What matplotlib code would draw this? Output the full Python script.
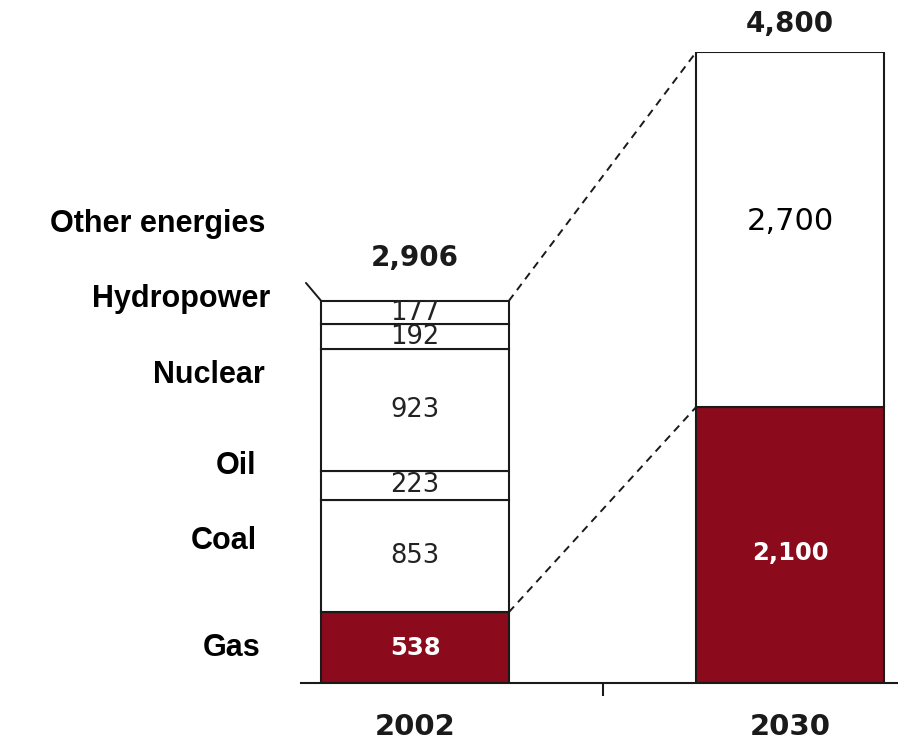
import matplotlib
matplotlib.use('Agg')
import matplotlib.pyplot as plt
import matplotlib.transforms as mtransforms

plt.rcParams['font.family'] = ['Liberation Sans', 'DejaVu Sans']

# data
years = ['2002', '2030']
sources_2002 = ['Gas', 'Coal', 'Oil', 'Nuclear', 'Hydropower', 'Other energies']
values_2002 = [538, 853, 223, 923, 192, 177]
total_2002 = 2906
values_2030 = [2100, 2700]   # gas, everything else
total_2030 = 4800

red = '#8b0a1c'
w = 0.5
num_font = 'DejaVu Sans'

fig = plt.figure(figsize=(8.98, 7.48), dpi=100)
ax = fig.add_axes([301 / 898, 65 / 748, 597 / 898, 631 / 748])

# 2002 stacked bar
bottom = 0
seg_centers = []
for i, v in enumerate(values_2002):
    col = red if i == 0 else 'white'
    ax.bar(0, v, width=w, bottom=bottom, color=col, edgecolor='#1a1a1a', linewidth=1.5)
    seg_centers.append(bottom + v / 2)
    if i == 0:
        ax.text(0, bottom + v / 2, f'{v:,}', ha='center', va='center', color='white',
                fontsize=17.5, fontweight='bold', family=num_font)
    else:
        ax.text(0, bottom + v / 2, f'{v:,}', ha='center', va='center', color='#222222',
                fontsize=18.5, family=num_font)
    bottom += v

# 2030 bar
ax.bar(1, values_2030[0], width=w, color=red, edgecolor='#1a1a1a', linewidth=1.5)
ax.bar(1, values_2030[1], width=w, bottom=values_2030[0], color='white',
       edgecolor='#1a1a1a', linewidth=1.5)
ax.text(1, values_2030[0] / 2 - 60, f'{values_2030[0]:,}', ha='center', va='center',
        color='white', fontsize=17.5, fontweight='bold', family=num_font)
ax.text(1, values_2030[0] + values_2030[1] / 2 + 60, f'{values_2030[1]:,}', ha='center',
        va='center', color='black', fontsize=22, family=num_font)

# totals
ax.annotate(f'{total_2002:,}', (0, total_2002), xytext=(0, 31), textcoords='offset points',
            ha='center', va='center', fontsize=20, fontweight='bold', color='#1a1a1a',
            family=num_font)
ax.annotate(f'{total_2030:,}', (1, total_2030), xytext=(0, 20), textcoords='offset points',
            ha='center', va='center', fontsize=20, fontweight='bold', color='#1a1a1a',
            family=num_font, annotation_clip=False)

# dashed connectors
ax.plot([w / 2, 1 - w / 2], [total_2002, total_2030], ls=(0, (4, 3)), color='#1a1a1a', lw=1.4,
        clip_on=False)
ax.plot([w / 2, 1 - w / 2], [values_2002[0], values_2030[0]], ls=(0, (4, 3)), color='#1a1a1a',
        lw=1.4, clip_on=False)
# little stroke at the left corner
ax.annotate('', (-w / 2, total_2002), xytext=(-11, 13), textcoords='offset points',
            arrowprops=dict(arrowstyle='-', color='#1a1a1a', lw=1.4, shrinkA=0, shrinkB=0))

# category labels on the left
lab_tr = mtransforms.blended_transform_factory(fig.transFigure, ax.transData)
lab_x = [261, 257, 256, 265, 270, 265]
lab_off = [0, 11, 14, 25, 27, 64]
for name, yc, lx, off in zip(sources_2002, seg_centers, lab_x, lab_off):
    ax.annotate(name, (lx / 898, yc), xycoords=lab_tr, xytext=(0, off),
                textcoords='offset points', ha='right', va='center', fontsize=22,
                fontweight='bold', color='black', annotation_clip=False)

# year labels
yr_tr = mtransforms.blended_transform_factory(ax.transData, fig.transFigure)
for i, yr in enumerate(years):
    ax.text(i, 21 / 748, yr, transform=yr_tr, ha='center', va='center', fontsize=21,
            fontweight='bold', color='#1a1a1a', family=num_font)

ax.set_xlim(-0.304, 1.288)
ax.set_ylim(0, total_2030)
for s in ['top', 'right', 'left']:
    ax.spines[s].set_visible(False)
ax.spines['bottom'].set_linewidth(1.5)
ax.spines['bottom'].set_color('#1a1a1a')
ax.set_yticks([])
ax.set_xticks([0.5])
ax.set_xticklabels([''])
ax.tick_params(axis='x', length=9, width=1.5, color='#1a1a1a')

fig.savefig('out.png', dpi=100)
